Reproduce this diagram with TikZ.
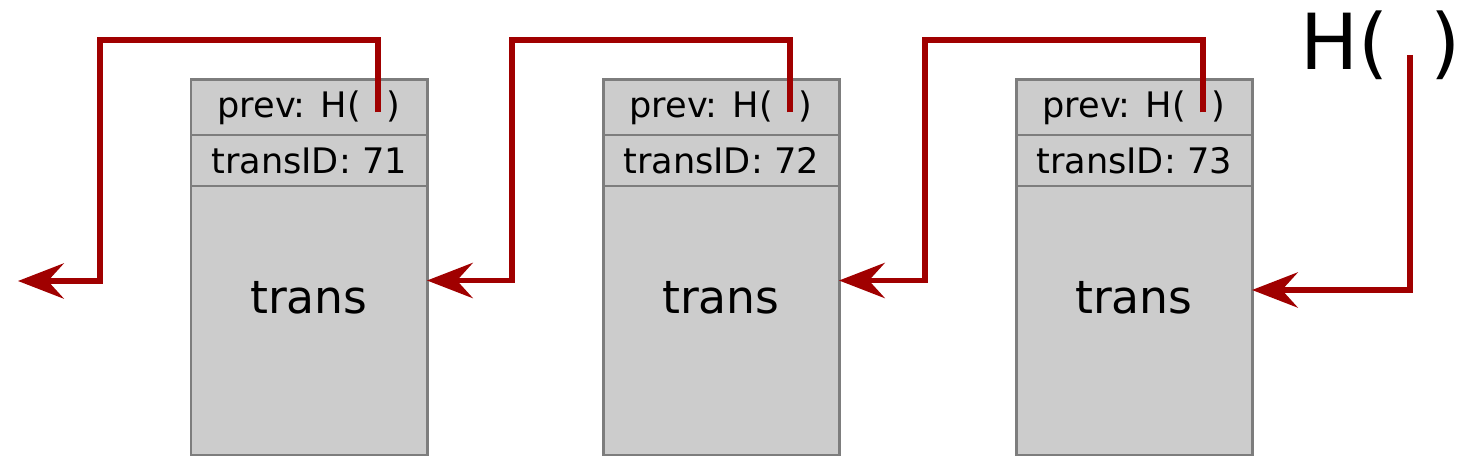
\documentclass[tikz,border=0pt]{standalone}
\usepackage{fontspec}
\setmainfont{DejaVu Sans}
\usepackage{tikz}
\usetikzlibrary{positioning,arrows.meta}
\definecolor{linkred}{RGB}{160,0,0}
\definecolor{boxgray}{RGB}{204,204,204}
\definecolor{edgegray}{RGB}{125,125,125}

\begin{document}
\begin{tikzpicture}[
		cell/.style={draw=edgegray,fill=boxgray,line width=0.85pt,minimum width=2.36cm,inner sep=0pt,outer sep=0pt,font=\fontsize{10}{12}\selectfont},
		link/.style={draw=linkred,line width=1.7pt,-{Stealth[length=13pt,width=10pt,inset=4.5pt]}}
	]
				\useasboundingbox (0,0) rectangle (14.59,4.65);
				\coordinate (top) at (0,4.25);
				% blocks
				\foreach \i/\x/\id in {1/3.09/71,2/7.21/72,3/11.34/73}{
					\node[cell,minimum height=0.55cm] (hdr\i) at (\x,3.575) {prev: H(\hspace{0.74em})};
					\node[cell,minimum height=0.51cm,below=0pt of hdr\i] (id\i) {transID: \id};
					\node[cell,minimum height=2.69cm,below=0pt of id\i] (body\i) {};
					\node[font=\fontsize{13}{16}\selectfont] (txt\i) at ([yshift=0.225cm]body\i.center) {trans};
					\coordinate (p\i) at ([xshift=0.69cm,yshift=-0.05cm]hdr\i.center);
					\coordinate (turn\i) at ([xshift=-0.91cm]hdr\i.west);
				}
				% hash pointers
				\coordinate (tail) at (0.18,1.84);
				\draw[link] (p1) |- (turn1 |- top) |- (tail);
				\foreach \i/\j in {2/1,3/2}{
					\draw[link] (p\i) |- (turn\i |- top) |- ([yshift=0.4cm]body\j.east);
				}
				% head pointer
				\node[anchor=base west,inner sep=0pt,font=\fontsize{22}{26}\selectfont] (head) at (13.0,3.95) {H(\hspace{0.54em})};
				\coordinate (p4) at (14.10,4.10);
				\draw[link] (p4) |- ([yshift=0.305cm]body3.east);
			\end{tikzpicture}
\end{document}
